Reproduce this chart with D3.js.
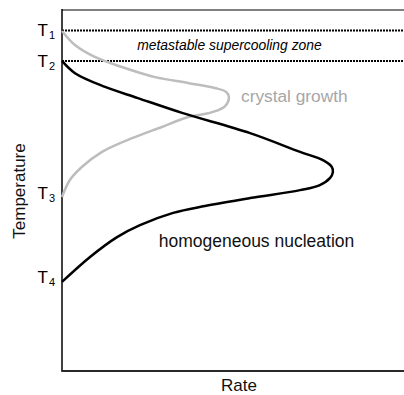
<!DOCTYPE html>
<html>
<head>
<meta charset="utf-8">
<script src="https://cdn.jsdelivr.net/npm/d3@7"></script>
<style>
  html, body { margin: 0; padding: 0; background: #fff; }
  svg { display: block; font-family: "Liberation Sans", Arial, sans-serif; }
</style>
</head>
<body>
<svg id="chart" width="404" height="395"></svg>
<script>
// Temperature ticks (arbitrary units, 0 = bottom of plot, 100 = top)
const tickNames = ["T1", "T2", "T3", "T4"];
const tickTemps = [94.3, 85.9, 48.2, 24.7];

// Crystal growth rate vs temperature (rate in arbitrary units)
const growthRate = [0, 3.8, 9.6, 17.5, 27.2, 36.8, 44.7, 48.0, 48.8, 47.7, 43.9, 36.0, 29.2, 21.3, 11.7, 5.8, 2.3, 0];
const growthTemp = [94.2, 90.3, 87.0, 84.2, 81.4, 79.8, 78.4, 77.3, 75.9, 73.4, 71.7, 70.1, 67.6, 64.8, 60.7, 56.5, 52.9, 48.2];

// Homogeneous nucleation rate vs temperature
const nucRate = [0, 3.8, 12.6, 22.2, 35.1, 55.0, 69.6, 76.3, 78.9, 79.2, 78.4, 75.4, 69.6, 55.0, 41.8, 32.5, 22.8, 16.1, 8.2, 0];
const nucTemp = [85.9, 82.5, 78.7, 75.6, 71.5, 65.9, 60.7, 58.4, 56.5, 55.1, 53.5, 51.5, 50.1, 47.9, 45.7, 43.8, 40.4, 37.1, 31.6, 24.7];

const svg = d3.select("#chart");
const plotLeft = 62, plotRight = 404, plotTop = 10, plotBottom = 371;

const x = d3.scaleLinear().domain([0, 100]).range([plotLeft, plotRight]);
const y = d3.scaleLinear().domain([0, 100]).range([plotBottom, plotTop]);

// Frame: grey top rule, black left and bottom axes
svg.append("line").attr("x1", plotLeft).attr("x2", plotRight).attr("y1", plotTop).attr("y2", plotTop)
  .attr("stroke", "#808080").attr("stroke-width", 2);
svg.append("line").attr("x1", plotLeft).attr("x2", plotLeft).attr("y1", plotTop - 1).attr("y2", plotBottom)
  .attr("stroke", "#000").attr("stroke-width", 1.5);
svg.append("line").attr("x1", plotLeft - 0.75).attr("x2", plotRight).attr("y1", plotBottom).attr("y2", plotBottom)
  .attr("stroke", "#2a2a2a").attr("stroke-width", 2);

// Dotted boundaries of the metastable zone (T1 and T2)
svg.selectAll("line.zone").data(tickTemps.slice(0, 2)).join("line")
  .attr("class", "zone")
  .attr("x1", plotLeft).attr("x2", plotRight)
  .attr("y1", d => y(d)).attr("y2", d => y(d))
  .attr("stroke", "#000").attr("stroke-width", 2)
  .attr("stroke-dasharray", "2,1");

// Curves
const line = d3.line().curve(d3.curveCatmullRom.alpha(0.5));
const growthPts = growthRate.map((r, i) => [x(r), y(growthTemp[i])]);
const nucPts = nucRate.map((r, i) => [x(r), y(nucTemp[i])]);

svg.append("path").attr("d", line(growthPts))
  .attr("fill", "none").attr("stroke", "#bdbdbd").attr("stroke-width", 2.5);
svg.append("path").attr("d", line(nucPts))
  .attr("fill", "none").attr("stroke", "#000").attr("stroke-width", 2.5);

// Tick labels with subscripts
const labelShift = [5.5, 6.5, 2.5, 1];
tickNames.forEach((name, i) => {
  const t = svg.append("text")
    .attr("x", plotLeft - 7)
    .attr("y", y(tickTemps[i]) + labelShift[i])
    .attr("text-anchor", "end")
    .attr("fill", "#000");
  t.append("tspan").attr("font-size", 17).text(name.slice(0, 1));
  t.append("tspan").attr("font-size", 11).attr("dx", 1).attr("dy", 3).text(name.slice(1));
});

// Annotations
svg.append("text").attr("x", 229.5).attr("y", 50)
  .attr("text-anchor", "middle").attr("font-size", 13.9).attr("font-style", "italic")
  .attr("fill", "#000").text("metastable supercooling zone");

svg.append("text").attr("x", 241).attr("y", 102)
  .attr("font-size", 17.3).attr("fill", "#a6a6a6").text("crystal growth");

svg.append("text").attr("x", 256.5).attr("y", 247)
  .attr("text-anchor", "middle").attr("font-size", 17.5).attr("fill", "#111")
  .text("homogeneous nucleation");

// Axis titles
svg.append("text").attr("x", 239).attr("y", 391)
  .attr("text-anchor", "middle").attr("font-size", 17).attr("fill", "#111").text("Rate");

svg.append("text").attr("transform", "translate(25,191) rotate(-90)")
  .attr("text-anchor", "middle").attr("font-size", 17).attr("fill", "#111").text("Temperature");
</script>
</body>
</html>
